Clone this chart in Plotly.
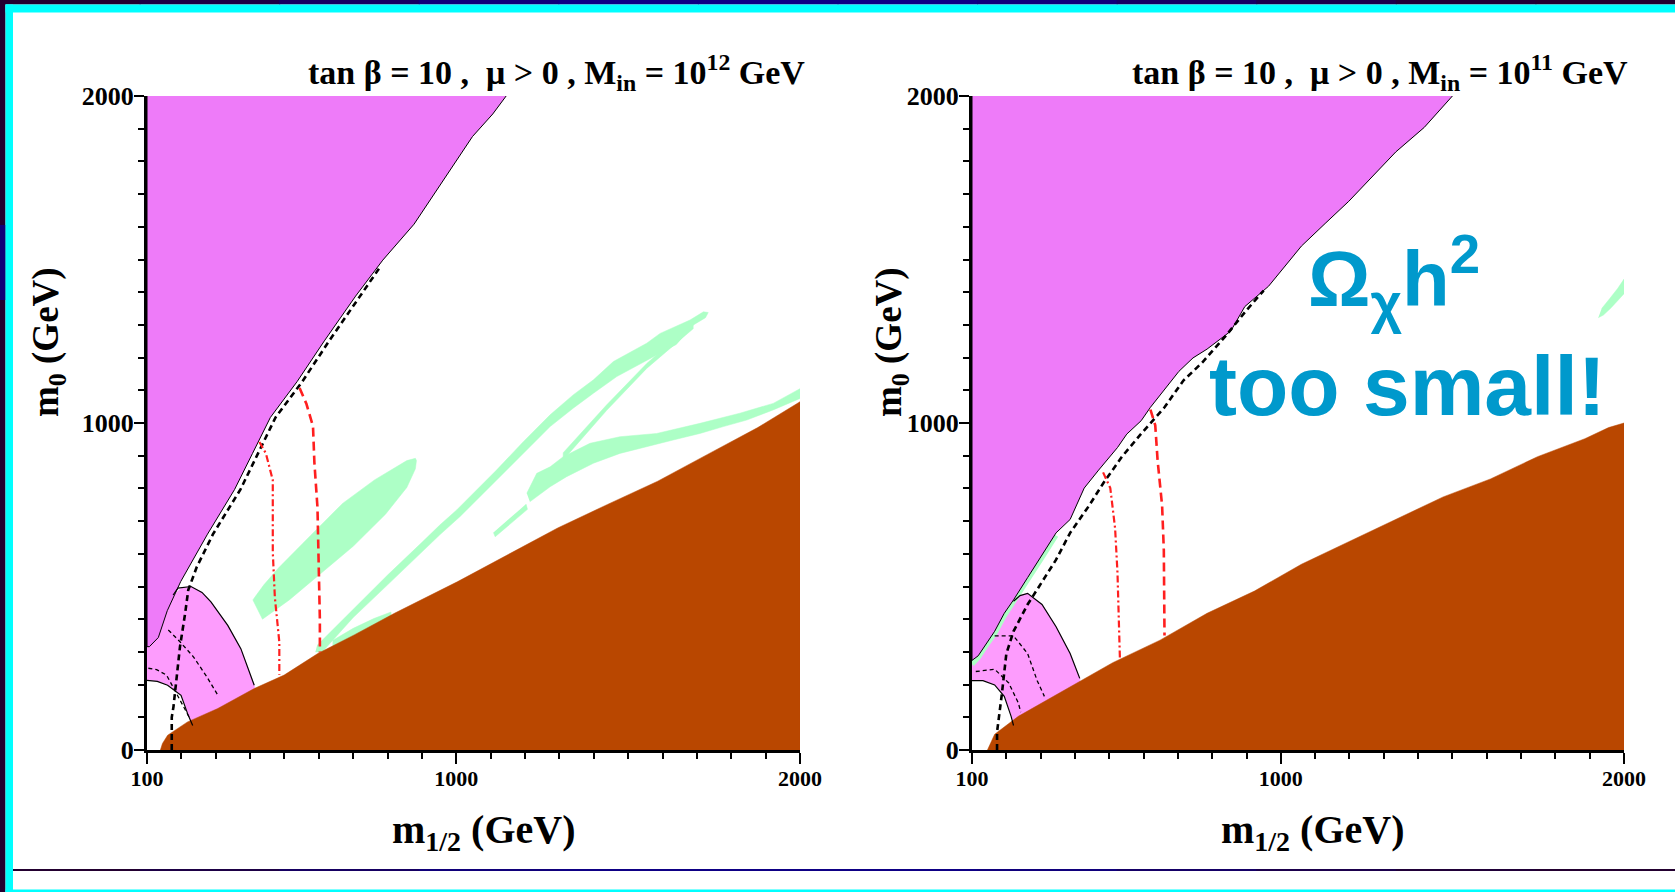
import plotly.graph_objects as go

W, H = 1675, 892


def px(x):
    return x / W


def py(y):
    return 1 - y / H


# ---------------- panel 1 : M_in = 10^12 GeV ----------------
p1_violet_m12 = [100, 100, 107, 133, 159, 198, 276, 355, 407, 459, 537, 616, 707, 786, 877, 929, 1008, 1047, 1106, 1145]
p1_violet_m0 = [2000, 316, 316, 344, 426, 515, 660, 797, 907, 1017, 1127, 1251, 1388, 1498, 1608, 1691, 1814, 1876, 1945, 2000]

p1_brown_m12 = [139, 145, 160, 218, 306, 412, 499, 597, 703, 820, 1004, 1149, 1295, 1440, 1586, 1731, 1877, 2000, 2000]
p1_brown_m0 = [0, 20, 45, 86, 127, 188, 229, 295, 352, 418, 515, 597, 679, 751, 822, 904, 986, 1065, 0]

p1_pink_m12 = [100, 100, 133, 159, 178, 200, 228, 260, 286, 335, 373, 412, 420, 233, 150]
p1_pink_m0 = [200, 340, 344, 426, 475, 495, 500, 482, 453, 381, 310, 198, 150, 50, 150]

p1_white_m12 = [100, 100, 130, 160, 199, 220, 233, 245, 245]
p1_white_m0 = [0, 213, 210, 198, 167, 106, 75, 40, 0]

p1_arc_m12 = [176, 190, 228, 260, 286, 335, 373, 412]
p1_arc_m0 = [474, 495, 500, 482, 453, 381, 310, 198]
p1_arc2_m12 = [100, 130, 160, 199, 220, 233]
p1_arc2_m0 = [213, 210, 198, 167, 106, 75]

# dark-matter strips
p1_blob_m12 = [408, 436, 514, 607, 700, 794, 856, 881, 884, 881, 856, 762, 669, 576, 483, 440, 408]
p1_blob_m0 = [459, 400, 459, 541, 623, 721, 803, 860, 885, 892, 885, 826, 754, 656, 557, 505, 459]

p1_stripA_m12 = [595, 700, 800, 900, 952, 1001, 1049, 1117, 1195, 1273, 1340, 1399, 1457, 1554, 1593, 1680, 1719, 1733,
                 1725, 1690, 1640, 1583, 1534, 1467, 1399, 1340, 1273, 1195, 1127, 1069, 1011, 952, 900, 800, 700, 610, 590]
p1_stripA_m0 = [320, 430, 535, 635, 688, 734, 785, 856, 943, 1025, 1086, 1132, 1188, 1244, 1274, 1315, 1340, 1338,
                1322, 1300, 1240, 1208, 1182, 1142, 1091, 1045, 989, 907, 836, 775, 714, 658, 605, 505, 405, 300, 300]

p1_stripB_m12 = [1690, 1554, 1437, 1311, 1311, 1437, 1554, 1690]
p1_stripB_m0 = [1307, 1182, 1055, 909, 887, 1038, 1167, 1289]

p1_stripC_m12 = [1205, 1234, 1273, 1311, 1389, 1476, 1583, 1709, 1825, 1922, 2000,
                 2000, 1922, 1845, 1777, 1709, 1631, 1554, 1476, 1399, 1321, 1273, 1234, 1214]
p1_stripC_m0 = [785, 846, 866, 897, 938, 958, 968, 999, 1030, 1060, 1105,
                1075, 1040, 1009, 989, 968, 948, 928, 907, 877, 836, 805, 775, 759]

p1_dash_m12 = [1108, 1113, 1207, 1203]
p1_dash_m0 = [665, 652, 736, 752]

p1_sliver_m12 = [640, 700, 760, 810, 810, 760, 700, 640]
p1_sliver_m0 = [300, 330, 370, 400, 422, 402, 372, 335]

# contours
p1_thick_m12 = [172, 172, 177, 186, 196, 211, 220, 245, 292, 372, 423, 474, 552, 630, 720, 780]
p1_thick_m0 = [0, 100, 132, 214, 316, 418, 489, 560, 660, 797, 907, 1017, 1127, 1251, 1388, 1480]
p1_thinA_m12 = [104, 128, 157, 181, 206, 225]
p1_thinA_m0 = [250, 246, 229, 183, 132, 96]
p1_thinB_m12 = [162, 196, 235, 274, 303, 308]
p1_thinB_m0 = [367, 331, 285, 224, 173, 163]
p1_reddot_m12 = [427, 446, 466, 466, 466, 472, 479, 485, 485]
p1_reddot_m0 = [942, 907, 825, 742, 605, 467, 399, 330, 230]
p1_reddash_m12 = [544, 564, 583, 587, 596, 600, 603, 603]
p1_reddash_m0 = [1107, 1058, 990, 880, 742, 564, 399, 298]

# ---------------- panel 2 : M_in = 10^11 GeV ----------------
p2_violet_m12 = [100, 100, 118, 139, 166, 194, 221, 262, 304, 345, 386, 427, 469, 524, 551, 593, 620, 703, 744, 785,
                 854, 895, 964, 1060, 1129, 1198, 1335, 1418, 1500]
p2_violet_m0 = [2000, 274, 288, 322, 363, 418, 459, 527, 596, 664, 705, 801, 856, 925, 966, 1007, 1048, 1158, 1199, 1226,
                1281, 1356, 1418, 1541, 1610, 1678, 1829, 1904, 2000]

p2_brown_m12 = [145, 166, 235, 304, 414, 510, 648, 785, 923, 1060, 1198, 1335, 1473, 1611, 1748, 1886, 1955, 2000, 2000]
p2_brown_m0 = [0, 48, 103, 144, 212, 267, 336, 418, 486, 568, 637, 705, 774, 829, 897, 952, 986, 1000, 0]

p2_pink_m12 = [100, 100, 118, 139, 166, 194, 221, 240, 262, 304, 345, 386, 414, 420, 240, 150]
p2_pink_m0 = [200, 280, 288, 322, 363, 418, 459, 472, 479, 445, 377, 295, 219, 150, 50, 150]

p2_white_m12 = [100, 100, 108, 132, 166, 194, 214, 221, 235, 235]
p2_white_m0 = [0, 212, 212, 212, 199, 164, 103, 75, 40, 0]

p2_arc_m12 = [221, 240, 262, 304, 345, 386, 414]
p2_arc_m0 = [455, 472, 479, 445, 377, 295, 219]
p2_arc2_m12 = [100, 108, 132, 166, 194, 214, 221]
p2_arc2_m0 = [212, 212, 212, 199, 164, 103, 75]

p2_edge_m12 = [100, 118, 139, 166, 194, 221, 262, 304, 345]
p2_edge_m0 = [262, 282, 316, 356, 410, 452, 520, 588, 656]

p2_blob_m12 = [1925, 1940, 1962, 1985, 2000, 2000, 1982, 1958, 1935]
p2_blob_m0 = [1322, 1330, 1352, 1378, 1395, 1440, 1412, 1380, 1350]

p2_thick_m12 = [173, 173, 187, 200, 221, 262, 304, 345, 386, 441, 482, 537, 592, 661, 716, 771, 840, 900, 950]
p2_thick_m0 = [0, 55, 171, 294, 363, 445, 514, 582, 664, 747, 815, 897, 966, 1048, 1130, 1185, 1267, 1345, 1405]
p2_thinA_m12 = [111, 166, 207, 235, 242]
p2_thinA_m0 = [240, 247, 205, 144, 116]
p2_thinB_m12 = [166, 221, 262, 290, 311]
p2_thinB_m0 = [349, 349, 295, 212, 164]
p2_reddot_m12 = [482, 503, 517, 524, 531]
p2_reddot_m0 = [849, 801, 678, 541, 281]
p2_reddash_m12 = [620, 634, 641, 654, 659, 661]
p2_reddash_m0 = [1041, 993, 884, 747, 610, 350]

# ticks and labels
x_labelled = [100, 1000, 2000]
y_labelled = [0, 1000, 2000]
mid_ticks_x = [500, 1500]
mid_ticks_y = [500, 1500]

VIOLET = "#ee7bf9"
PINK = "#fd9cfd"
BROWN = "#b94700"
MINT = "#adffc6"
RED = "#ff1f1f"
SERIF = "Liberation Serif"

fig = go.Figure()


def area(xs, ys, color, xa, ya, edge=0):
    fig.add_trace(go.Scatter(
        x=xs, y=ys, mode="lines", fill="toself", fillcolor=color,
        line=dict(color="black" if edge else color, width=edge if edge else 0.5),
        hoverinfo="skip", showlegend=False, xaxis=xa, yaxis=ya))


def curve(xs, ys, color, width, dash, xa, ya):
    fig.add_trace(go.Scatter(
        x=xs, y=ys, mode="lines", line=dict(color=color, width=width, dash=dash),
        hoverinfo="skip", showlegend=False, xaxis=xa, yaxis=ya))


panels = [
    dict(xa="x", ya="y", pink=(p1_pink_m12, p1_pink_m0), white=(p1_white_m12, p1_white_m0),
         greens=[(p1_blob_m12, p1_blob_m0), (p1_stripA_m12, p1_stripA_m0), (p1_stripB_m12, p1_stripB_m0),
                 (p1_stripC_m12, p1_stripC_m0), (p1_dash_m12, p1_dash_m0), (p1_sliver_m12, p1_sliver_m0)],
         brown=(p1_brown_m12, p1_brown_m0), violet=(p1_violet_m12, p1_violet_m0), edge=None,
         arcs=[(p1_arc_m12, p1_arc_m0), (p1_arc2_m12, p1_arc2_m0)],
         thin=[(p1_thinA_m12, p1_thinA_m0), (p1_thinB_m12, p1_thinB_m0)],
         thick=(p1_thick_m12, p1_thick_m0), reddot=(p1_reddot_m12, p1_reddot_m0),
         reddash=(p1_reddash_m12, p1_reddash_m0)),
    dict(xa="x3", ya="y3", pink=(p2_pink_m12, p2_pink_m0), white=(p2_white_m12, p2_white_m0),
         greens=[(p2_blob_m12, p2_blob_m0)],
         brown=(p2_brown_m12, p2_brown_m0), violet=(p2_violet_m12, p2_violet_m0), edge=(p2_edge_m12, p2_edge_m0),
         arcs=[(p2_arc_m12, p2_arc_m0), (p2_arc2_m12, p2_arc2_m0)],
         thin=[(p2_thinA_m12, p2_thinA_m0), (p2_thinB_m12, p2_thinB_m0)],
         thick=(p2_thick_m12, p2_thick_m0), reddot=(p2_reddot_m12, p2_reddot_m0),
         reddash=(p2_reddash_m12, p2_reddash_m0)),
]

for p in panels:
    xa, ya = p["xa"], p["ya"]
    area(*p["pink"], PINK, xa, ya)
    area(*p["white"], "white", xa, ya)
    for g in p["greens"]:
        area(*g, MINT, xa, ya)
    area(*p["brown"], BROWN, xa, ya)
    if p["edge"]:
        curve(*p["edge"], MINT, 5, "solid", xa, ya)
    area(*p["violet"], VIOLET, xa, ya, edge=1)
    for a in p["arcs"]:
        curve(*a, "black", 1.2, "solid", xa, ya)
    for t in p["thin"]:
        curve(*t, "black", 1.3, "4px,3px", xa, ya)
    curve(*p["thick"], "black", 2.6, "6px,4px", xa, ya)
    curve(*p["reddot"], RED, 2.2, "7px,3px,2px,3px", xa, ya)
    curve(*p["reddash"], RED, 2.6, "9px,5px", xa, ya)

tickfont_x = dict(family=SERIF, size=22, color="black", weight="bold")
tickfont_y = dict(family=SERIF, size=26, color="black", weight="bold")
minor_ticks = dict(tickmode="linear", dtick=100, ticklen=6, tickwidth=1.5, tickcolor="black")
common = dict(showgrid=False, zeroline=False, automargin=False, tickcolor="black", tickwidth=2)


def bottom_axis(dom, anchor):
    return dict(domain=dom, anchor=anchor, range=[100, 2000], showline=True, linecolor="black", linewidth=3,
                ticks="outside", ticklen=11, tickmode="array", tickvals=x_labelled,
                tickfont=tickfont_x, ticklabelstandoff=-4,
                minor=dict(ticks="outside", tick0=100, **minor_ticks), **common)


def bottom_mid(over, anchor):
    return dict(overlaying=over, side="bottom", anchor=anchor, range=[100, 2000], showline=False,
                ticks="outside", ticklen=11, tickmode="array", tickvals=mid_ticks_x,
                showticklabels=False, **common)


def left_axis(anchor):
    return dict(domain=[py(750), py(96)], anchor=anchor, range=[0, 2000], showline=True, linecolor="black",
                linewidth=3, ticks="outside", ticklen=10, tickmode="array", tickvals=y_labelled,
                tickfont=tickfont_y, ticklabelstandoff=-5,
                minor=dict(ticks="outside", tick0=0, **minor_ticks), **common)


def left_mid(over, anchor):
    return dict(overlaying=over, side="left", anchor=anchor, range=[0, 2000], showline=False,
                ticks="outside", ticklen=10, tickmode="array", tickvals=mid_ticks_y,
                showticklabels=False, **common)


def top_axis(over, anchor):
    return dict(overlaying=over, side="top", anchor=anchor, range=[100, 2000], showline=True, linecolor="black",
                linewidth=2.5, ticks="inside", ticklen=10, tickmode="array",
                tickvals=mid_ticks_x + [1000], showticklabels=False,
                minor=dict(ticks="inside", tick0=100, **minor_ticks), **common)


def right_axis(over, anchor):
    return dict(overlaying=over, side="right", anchor=anchor, range=[0, 2000], showline=True, linecolor="black",
                linewidth=2.5, ticks="inside", ticklen=10, tickmode="array",
                tickvals=mid_ticks_y + [1000], showticklabels=False,
                minor=dict(ticks="inside", tick0=0, **minor_ticks), **common)


# slide frame: dark rim, cyan band and rule lines
rim_colors = ["#230030", "#1d0045", "#160062", "#10007a", "#0e0085", "#0e0085",
              "#0e0085", "#10007c", "#150066", "#1b004c", "#200038", "#230030"]
shapes = []
n = len(rim_colors)
for i, c in enumerate(rim_colors):
    x0, x1 = W * i / n, W * (i + 1) / n + 1
    shapes.append(dict(type="rect", xref="paper", yref="paper", x0=px(x0), x1=px(min(x1, W)),
                       y0=py(4.5), y1=1, fillcolor=c, line=dict(width=0), layer="above"))
    shapes.append(dict(type="rect", xref="paper", yref="paper", x0=px(max(x0, 13)), x1=px(min(x1, W)),
                       y0=py(871), y1=py(869), fillcolor=c, line=dict(width=0), layer="above"))
shapes += [
    dict(type="rect", xref="paper", yref="paper", x0=0, x1=px(5.5), y0=0, y1=1,
         fillcolor="#230030", line=dict(width=0), layer="above"),
    dict(type="rect", xref="paper", yref="paper", x0=0, x1=px(5.5), y0=py(300), y1=py(225),
         fillcolor="#10007a", line=dict(width=0), layer="above"),
    dict(type="rect", xref="paper", yref="paper", x0=px(5.5), x1=1, y0=py(12.5), y1=py(4.5),
         fillcolor="#00ffff", line=dict(width=0), layer="above"),
    dict(type="rect", xref="paper", yref="paper", x0=px(5.5), x1=px(13), y0=0, y1=py(4.5),
         fillcolor="#00ffff", line=dict(width=0), layer="above"),
    dict(type="rect", xref="paper", yref="paper", x0=px(5.5), x1=1, y0=0, y1=py(889.5),
         fillcolor="#00ffff", line=dict(width=0), layer="above"),
]

title_font = dict(family=SERIF, size=34, color="black", weight="bold")
label_font = dict(family=SERIF, size=37, color="black", weight="bold")
omega_font = dict(family="Liberation Sans", size=78, color="#0099cc", weight="bold")
small_font = dict(family="Liberation Sans", size=84, color="#0099cc", weight="bold")

annotations = [
    dict(text="tan β = 10 ,\u00a0 μ > 0 , M<sub>in</sub> = 10<sup>12</sup> GeV", x=px(807), y=py(72),
         xanchor="right", yanchor="middle", font=title_font),
    dict(text="tan β = 10 ,\u00a0 μ > 0 , M<sub>in</sub> = 10<sup>11</sup> GeV", x=px(1630), y=py(72),
         xanchor="right", yanchor="middle", font=title_font),
    dict(text="m<sub>0</sub> (GeV)", x=px(48), y=py(342), textangle=-90, xanchor="center", yanchor="middle",
         font=label_font),
    dict(text="m<sub>0</sub> (GeV)", x=px(891), y=py(342), textangle=-90, xanchor="center", yanchor="middle",
         font=label_font),
    dict(text="m<sub>1/2</sub> (GeV)", x=px(484), y=py(832), xanchor="center", yanchor="middle",
         font=dict(label_font, size=40)),
    dict(text="m<sub>1/2</sub> (GeV)", x=px(1313), y=py(832), xanchor="center", yanchor="middle",
         font=dict(label_font, size=40)),
    dict(text="Ω<sub>χ</sub>h<sup>2</sup>", x=px(1306), y=py(279), xanchor="left", yanchor="middle",
         font=omega_font),
    dict(text="too small!", x=px(1207), y=py(386), xanchor="left", yanchor="middle", font=small_font),
]
for a in annotations:
    a.update(xref="paper", yref="paper", showarrow=False)

fig.update_layout(
    width=W, height=H, margin=dict(l=0, r=0, t=0, b=0, pad=0, autoexpand=False),
    paper_bgcolor="white", plot_bgcolor="white", showlegend=False,
    xaxis=bottom_axis([px(147), px(800)], "y"), yaxis=left_axis("x"),
    xaxis2=top_axis("x", "y"), yaxis2=right_axis("y", "x"),
    xaxis5=bottom_mid("x", "y"), yaxis5=left_mid("y", "x"),
    xaxis3=bottom_axis([px(972), px(1624)], "y3"), yaxis3=left_axis("x3"),
    xaxis4=top_axis("x3", "y3"), yaxis4=right_axis("y3", "x3"),
    xaxis6=bottom_mid("x3", "y3"), yaxis6=left_mid("y3", "x3"),
    shapes=shapes, annotations=annotations,
)

fig.write_html("out.html", config={"responsive": False},
               post_script="document.body.style.margin='0';document.body.style.overflow='hidden';")
